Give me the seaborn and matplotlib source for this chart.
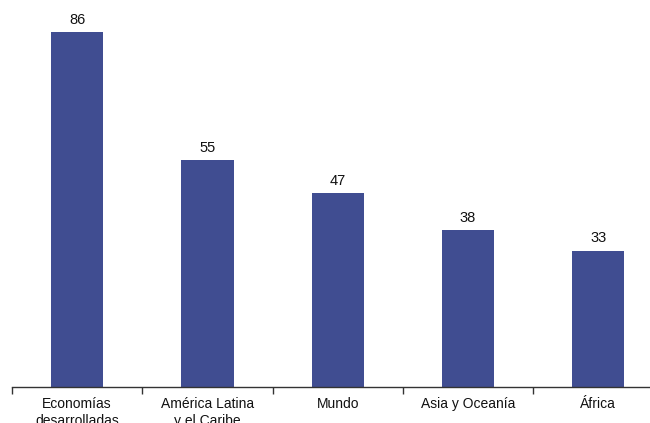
import matplotlib
matplotlib.use("Agg")
import matplotlib.pyplot as plt
import seaborn as sns
import pandas as pd

sns.set_theme(style="white")
plt.rcParams['font.family'] = ['Liberation Sans', 'DejaVu Sans']

# Dati
regioni = ['Economías\ndesarrolladas', 'América Latina\ny el Caribe', 'Mundo',
           'Asia y Oceanía', 'África']
valori = [86, 55, 47, 38, 33]
COLORE_BARRE = '#404D91'

df = pd.DataFrame({'regione': regioni, 'valore': valori})

fig = plt.figure(figsize=(6.5, 4.23), dpi=100)
ax = fig.add_axes([0.0185, 0.0851, 1.0023, 0.8783])

sns.barplot(data=df, x='regione', y='valore', color=COLORE_BARRE, width=0.4,
            saturation=1, linewidth=0, ax=ax)

for i, v in enumerate(valori):
    ax.text(i, v + 1.3, str(v), ha='center', va='bottom', fontsize=10.5, color='#111111')

ax.set_ylim(0, 90)
ax.set_xlim(-0.5, len(valori) - 0.5)
ax.set_xlabel('')
ax.set_ylabel('')
ax.set_yticks([])

for lato in ['top', 'right', 'left']:
    ax.spines[lato].set_visible(False)
ax.spines['bottom'].set_color('#333333')
ax.spines['bottom'].set_linewidth(1)

# tacche ai confini tra categorie
ax.set_xticks([i - 0.5 for i in range(len(valori) + 1)], minor=True)
ax.tick_params(axis='x', which='minor', length=5, width=1, color='#333333', direction='out', bottom=True)
ax.tick_params(axis='x', which='major', length=0, pad=7.5, labelsize=10, labelcolor='#111111')
for etichetta in ax.get_xticklabels():
    etichetta.set_linespacing(1.25)

plt.savefig('out.png', dpi=100)
plt.close()
